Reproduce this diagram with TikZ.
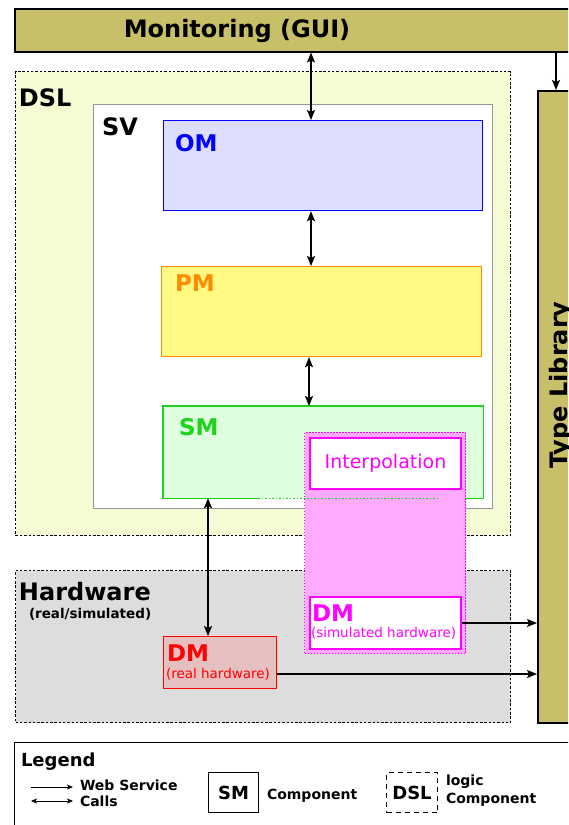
\documentclass[tikz,border=0pt]{standalone}
\usepackage{fontspec}
\setmainfont{DejaVu Sans}
\usetikzlibrary{arrows.meta,calc}

\definecolor{olive}{RGB}{200,192,104}
\definecolor{dslfill}{RGB}{245,252,212}
\definecolor{omfill}{RGB}{221,221,255}
\definecolor{pmfill}{RGB}{255,249,131}
\definecolor{pmline}{RGB}{255,140,0}
\definecolor{smfill}{RGB}{221,255,221}
\definecolor{smline}{RGB}{30,210,30}
\definecolor{pinkfill}{RGB}{255,170,255}
\definecolor{simline}{RGB}{255,0,255}
\definecolor{hwfill}{RGB}{221,221,221}
\definecolor{dmfill}{RGB}{230,192,192}
\definecolor{svline}{RGB}{150,150,150}

\tikzset{
  box/.style={draw, line width=1.2pt, inner sep=0pt, anchor=north west},
  logicbox/.style={draw, line width=1.3pt, dash pattern=on 2.5pt off 1.8pt, inner sep=0pt, anchor=north west},
  lbl/.style={inner sep=0pt, outer sep=0pt},
  bigfont/.style={lbl, font=\bfseries\fontsize{24}{28}\selectfont},
  compfont/.style={lbl, font=\bfseries\fontsize{23}{27}\selectfont},
  smallfont/.style={lbl, font=\fontsize{13.5}{16}\selectfont},
  legfont/.style={lbl, font=\bfseries\fontsize{14}{17}\selectfont},
  wscall/.style={line width=1.4pt, {Stealth[length=10pt,width=8pt,inset=2pt]}-{Stealth[length=10pt,width=8pt,inset=2pt]}},
  wsone/.style={line width=1.4pt, -{Stealth[length=10pt,width=8pt,inset=2pt]}},
  legcall/.style={line width=0.8pt, {Stealth[length=6pt,width=5pt,inset=1.5pt]}-{Stealth[length=6pt,width=5pt,inset=1.5pt]}},
  legone/.style={line width=0.8pt, -{Stealth[length=6pt,width=5pt,inset=1.5pt]}},
}

\begin{document}
\begin{tikzpicture}[x=1pt,y=-1pt]
\useasboundingbox (0,0) rectangle (568,825);
\clip (0,0) rectangle (568,825);
\fill[white] (0,0) rectangle (568,825);

% logic component DSL
\node[logicbox, fill=dslfill, minimum width=495, minimum height=464] (dsl) at (15,71) {};
\node[bigfont, anchor=base west] (dsltext) at (19,106) {DSL};

% service SV
\node[box, draw=svline, line width=1pt, fill=white, minimum width=399, minimum height=404] (sv) at (93,104) {};
\node[bigfont, anchor=base west] (svtext) at (102,135) {SV};

% OM
\node[box, draw=blue, fill=omfill, minimum width=319, minimum height=90] (om) at (163,120) {};
\node[compfont, text=blue, anchor=base west] (omtext) at (175,151) {OM};

% PM
\node[box, draw=pmline, fill=pmfill, minimum width=320, minimum height=90] (pm) at (161,266) {};
\node[compfont, text=pmline, anchor=base west] (pmtext) at (175,291) {PM};

% SM (border drawn after the simulation part)
\node[box, draw=none, fill=smfill, minimum width=319, minimum height=91] (sm) at (163,406) {};
\node[compfont, text=smline, anchor=base west] (smtext) at (179,435) {SM};

% Hardware
\node[logicbox, fill=hwfill, minimum width=495, minimum height=152] (hw) at (15,570) {};
\node[bigfont, anchor=base west] (hwtext) at (19,600) {Hardware};
\node[lbl, font=\bfseries\fontsize{13.5}{16}\selectfont, anchor=base west] (hwsub) at (29,618) {(real/simulated)};

% SM outline
\draw[smline, line width=1.2pt] ($(sm.south west)+(95,0)$) -- (sm.south west) -- (sm.north west) -- (sm.north east) -- (sm.south east) -- ($(sm.south east)+(-20,0)$);

% simulated hardware part
\node[draw=simline, fill=pinkfill, line width=1pt, dash pattern=on 1.5pt off 1.5pt, inner sep=0pt, anchor=north west, minimum width=161, minimum height=221] (sim) at (304,432) {};
\node[box, draw=simline, line width=2pt, fill=white, minimum width=151, minimum height=51] (interp) at (309,437) {};
\node[lbl, text=simline, font=\fontsize{19}{22}\selectfont] (interptext) at (interp.center) {Interpolation};
\node[box, draw=simline, line width=2pt, fill=white, minimum width=151, minimum height=52] (dmsim) at (309,596) {};
\node[compfont, text=simline, anchor=base west] (dmsimtext) at (312,621) {DM};
\node[smallfont, text=simline, anchor=base west] (dmsimsub) at (311,637) {(simulated hardware)};
\draw[smline, line width=1pt, dash pattern=on 1.5pt off 2pt] ($(sm.south west)+(95,0)$) -- ($(sm.south west)+(277,0)$);

% real hardware DM
\node[box, draw=red, fill=dmfill, minimum width=113, minimum height=52] (dmreal) at (163,636) {};
\node[compfont, text=red, anchor=base west] (dmrealtext) at (167,661) {DM};
\node[smallfont, text=red, anchor=base west] (dmrealsub) at (166,678) {(real hardware)};

% Type Library
\node[box, line width=1.5pt, fill=olive, minimum width=60, minimum height=632] (tl) at (537,90) {};
\node[bigfont, rotate=90, anchor=base] (tltext) at (567.5,385) {Type Library};

% Monitoring
\node[box, line width=1.5pt, fill=olive, minimum width=566, minimum height=43] (mon) at (14,8) {};
\node[bigfont, anchor=base] (montext) at (237,37.5) {Monitoring (GUI)};

% web service calls
\coordinate (xa) at (311,0);
\coordinate (xb) at (309,0);
\coordinate (xc) at (208,0);
\coordinate (xd) at (556,0);
\coordinate (ya) at (0,674);
\draw[wscall] (xa |- mon.south) -- (xa |- om.north);
\draw[wscall] (xa |- om.south) -- (xa |- pm.north);
\draw[wscall] (xb |- pm.south) -- (xb |- sm.north);
\draw[wscall] (xc |- sm.south) -- (xc |- dmreal.north);
\draw[wsone] (xd |- mon.south) -- (xd |- tl.north);
\draw[wsone] (dmsim.east) -- (dmsim.east -| tl.west);
\draw[wsone] (dmreal.east |- ya) -- (tl.west |- ya);

% legend
\node[box, line width=1.3pt, minimum width=580, minimum height=100] (legend) at (14,742) {};
\node[lbl, font=\bfseries\fontsize{18}{21}\selectfont, anchor=base west] (legtitle) at (21,766) {Legend};
\coordinate (la1) at (31,787);
\coordinate (la2) at (73,787);
\coordinate (lb1) at (31,801);
\coordinate (lb2) at (73,801);
\draw[legone] (la1) -- (la2);
\draw[legcall] (lb1) -- (lb2);
\node[legfont, anchor=base west] (ws1) at (80,790) {Web Service};
\node[legfont, anchor=base west] (ws2) at (80,806) {Calls};
\node[box, line width=1.2pt, minimum width=50, minimum height=40, font=\bfseries\fontsize{18}{21}\selectfont] (legsm) at (208,772) {SM};
\node[legfont, anchor=base west] (legcomp) at (267,799) {Component};
\node[box, line width=1pt, dash pattern=on 5pt off 4pt, minimum width=51, minimum height=40, font=\bfseries\fontsize{18}{21}\selectfont] (legdsl) at (386,772) {DSL};
\node[legfont, anchor=base west] (leglogic1) at (446,785) {logic};
\node[legfont, anchor=base west] (leglogic2) at (446,803) {Component};
\end{tikzpicture}
\end{document}
